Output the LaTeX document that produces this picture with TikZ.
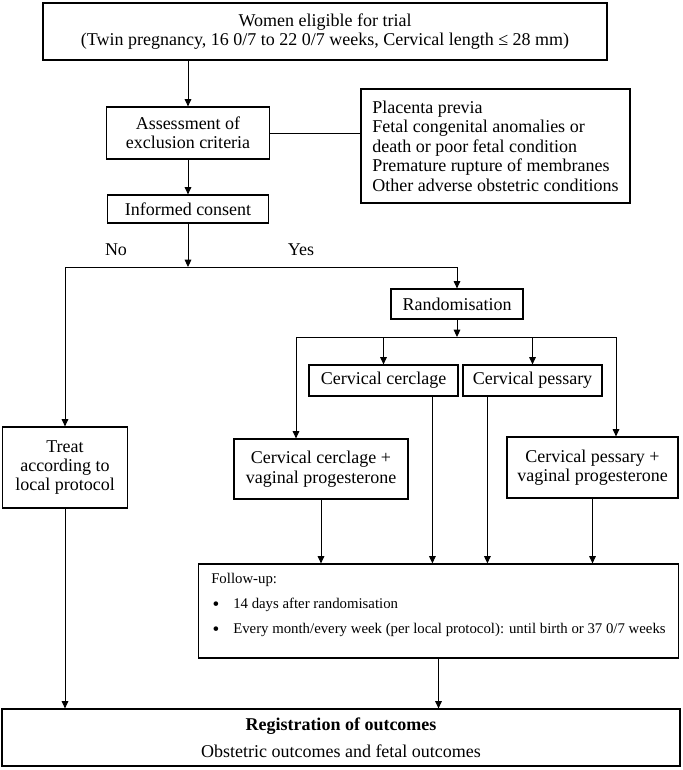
\documentclass[tikz,border=0pt]{standalone}
\usepackage{fontspec}
\setmainfont{Liberation Serif}
\usetikzlibrary{arrows.meta,calc}
\begin{document}
\begin{tikzpicture}[x=0.75pt,y=-0.75pt,
  box/.style={draw, line width=0.9pt, inner sep=0pt, align=center, font=\fontsize{13.5}{14.6}\selectfont},
  txt/.style={inner sep=0pt, font=\fontsize{13.5}{14.6}\selectfont},
  arr/.style={line width=0.7pt, -{Triangle[length=5.5pt,width=5pt]}},
  ln/.style={line width=0.7pt}]
\useasboundingbox (0,0) rectangle (682,770);
\node[box, minimum width=564*0.75pt, minimum height=57*0.75pt] (top) at (325,31.5)
  {Women eligible for trial\\(Twin pregnancy, 16 0/7 to 22 0/7 weeks, Cervical length ≤ 28 mm)};
\node[box, minimum width=163*0.75pt, minimum height=52*0.75pt] (assess) at (188,133)
  {Assessment of\\exclusion criteria};
\node[box, minimum width=269*0.75pt, minimum height=114*0.75pt] (excl) at (495.5,146) {};
\node[txt, align=left, anchor=west] (exclt) at (372,146)
  {Placenta previa\\Fetal congenital anomalies or\\death or poor fetal condition\\Premature rupture of membranes\\Other adverse obstetric conditions};
\node[box, minimum width=161*0.75pt, minimum height=28*0.75pt] (consent) at (188,209) {Informed consent};
\node[txt] (no) at (116,250) {No};
\node[txt] (yes) at (301,250) {Yes};
\node[box, minimum width=132*0.75pt, minimum height=30*0.75pt] (rand) at (457,304) {Randomisation};
\node[box, minimum width=149*0.75pt, minimum height=31*0.75pt] (cc) at (383.5,380.5) {Cervical cerclage};
\node[box, minimum width=139*0.75pt, minimum height=31*0.75pt] (cp) at (532.5,380.5) {Cervical pessary};
\node[box, minimum width=174*0.75pt, minimum height=60*0.75pt] (ccvp) at (321,469) {Cervical cerclage +\\vaginal progesterone};
\node[box, minimum width=171*0.75pt, minimum height=61*0.75pt] (cpvp) at (592.5,467.5) {Cervical pessary +\\vaginal progesterone};
\node[box, minimum width=125*0.75pt, minimum height=81*0.75pt] (treat) at (65,467.5) {Treat\\according to\\local protocol};
\node[box, minimum width=480*0.75pt, minimum height=94*0.75pt] (follow) at (438.5,611) {};
\node[inner sep=0pt, align=left, anchor=west, font=\fontsize{11.1}{18.6}\selectfont] (followt) at (211,605)
  {Follow-up:\\
   \hspace*{1pt}\makebox[15.5pt][l]{\raisebox{-0.25ex}{\scalebox{1.3}{\textbullet}}}14 days after randomisation\\
   \hspace*{1pt}\makebox[15.5pt][l]{\raisebox{-0.25ex}{\scalebox{1.3}{\textbullet}}}Every month/every week (per local protocol): until birth or 37 0/7 weeks};
\node[box, minimum width=678*0.75pt, minimum height=57*0.75pt] (reg) at (341,737.5)
  {\textbf{Registration of outcomes}\\[5.5pt]Obstetric outcomes and fetal outcomes};
% connectors
\draw[arr] (assess.north |- top.south) -- (assess.north);
\draw[ln] (assess.east) -- (assess.east -| excl.west);
\draw[arr] (assess.south) -- (consent.north);
\coordinate (split) at (188,267);
\draw[arr] (consent.south) -- (split);
\draw[arr] (split) -| (treat.north);
\draw[arr] (split) -| (rand.north);
\coordinate (rsplit) at (457,337);
\draw[arr] (rand.south) -- (rsplit);
\coordinate (bl) at (296,337);
\coordinate (br) at (616,337);
\draw[ln] (bl) -- (br);
\draw[arr] (bl) -- (bl |- ccvp.north);
\draw[arr] (br) -- (br |- cpvp.north);
\draw[arr] (cc.north |- rsplit) -- (cc.north);
\draw[arr] (cp.north |- rsplit) -- (cp.north);
\draw[arr] (ccvp.south) -- (ccvp.south |- follow.north);
\coordinate (ccout) at ($(cc.south west)+(124,0)$);
\draw[arr] (ccout) -- (ccout |- follow.north);
\coordinate (cpout) at ($(cp.south west)+(25,0)$);
\draw[arr] (cpout) -- (cpout |- follow.north);
\draw[arr] (cpvp.south) -- (cpvp.south |- follow.north);
\draw[arr] (follow.south) -- (follow.south |- reg.north);
\draw[arr] (treat.south) -- (treat.south |- reg.north);
\end{tikzpicture}
\end{document}
